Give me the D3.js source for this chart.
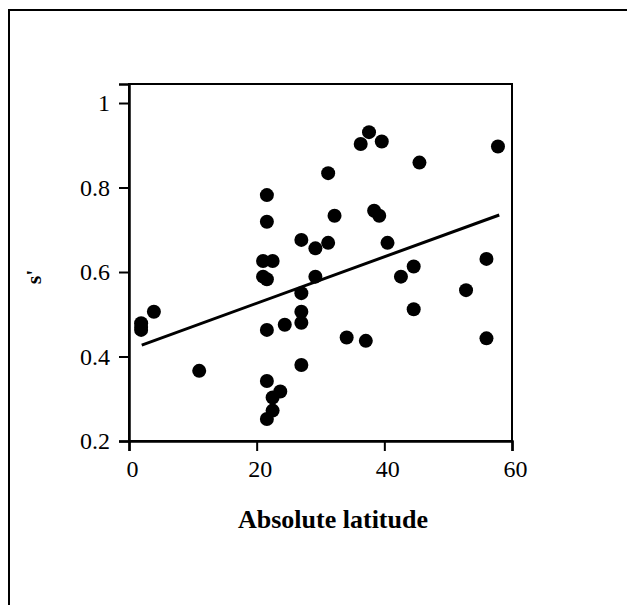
<!DOCTYPE html>
<html>
<head>
<meta charset="utf-8">
<script src="https://cdn.jsdelivr.net/npm/d3@7/dist/d3.min.js"></script>
<style>
  html, body { margin: 0; padding: 0; background: #fff; }
  svg { display: block; }
  text { font-family: "Liberation Serif", "Times New Roman", serif; fill: #000; }
</style>
</head>
<body>
<script>
// Absolute latitude vs s' for each sampled site
const latitude = [1.9, 1.9, 1.9, 3.9, 11.0,
  21.6, 21.6, 21.0, 22.5, 21.0, 21.6, 21.6, 21.6, 23.7, 22.5, 22.5, 21.6, 24.4,
  27.0, 27.0, 27.0, 27.0, 27.0, 29.2, 29.2, 31.2, 31.2, 32.2, 34.1, 36.3, 37.1,
  37.6, 38.4, 39.2, 39.6, 40.5, 42.6, 44.6, 44.6, 45.5, 52.8, 56.0, 56.0, 57.8];
const sPrime = [0.479, 0.470, 0.463, 0.506, 0.366,
  0.782, 0.719, 0.626, 0.626, 0.589, 0.583, 0.463, 0.342, 0.317, 0.303, 0.272, 0.252, 0.475,
  0.676, 0.550, 0.506, 0.480, 0.380, 0.656, 0.589, 0.834, 0.669, 0.733, 0.445, 0.903, 0.437,
  0.931, 0.745, 0.733, 0.909, 0.669, 0.589, 0.613, 0.512, 0.859, 0.557, 0.631, 0.443, 0.897];

// Fitted trend line endpoints
const fitX = [2, 58];
const fitY = [0.427, 0.735];

const xTicks = [0, 20, 40, 60];
const yTicks = [0.2, 0.4, 0.6, 0.8, 1];
const yTickLabels = ["0.2", "0.4", "0.6", "0.8", "1"];

const W = 627, H = 605;
const svg = d3.select("body").append("svg").attr("width", W).attr("height", H);

// outer frame (top and left edges)
svg.append("line").attr("x1", 8).attr("x2", W).attr("y1", 10).attr("y2", 10)
  .attr("stroke", "#000").attr("stroke-width", 2);
svg.append("line").attr("x1", 9).attr("x2", 9).attr("y1", 9).attr("y2", H)
  .attr("stroke", "#000").attr("stroke-width", 2);

const plotLeft = 129, plotRight = 512, plotTop = 84, plotBottom = 441;
const x = d3.scaleLinear().domain([0, 60]).range([plotLeft, plotRight]);
const y = d3.scaleLinear().domain([0.2, 1.045]).range([plotBottom, plotTop]);

// plot box
svg.append("rect").attr("x", plotLeft).attr("y", plotTop)
  .attr("width", plotRight - plotLeft).attr("height", plotBottom - plotTop)
  .attr("fill", "none").attr("stroke", "#000").attr("stroke-width", 2);

const xAxis = svg.append("g").attr("transform", `translate(0,${plotBottom})`)
  .call(d3.axisBottom(x).tickValues(xTicks).tickSize(10).tickPadding(9).tickFormat(d3.format("d")));
const yAxis = svg.append("g").attr("transform", `translate(${plotLeft},0)`)
  .call(d3.axisLeft(y).tickValues(yTicks).tickSize(10).tickPadding(9)
    .tickFormat((d, i) => yTickLabels[i]));

[xAxis, yAxis].forEach(g => {
  g.attr("font-size", null).attr("font-family", null);
  g.select(".domain").attr("stroke", "#000").attr("stroke-width", 2.5);
  g.selectAll(".tick line").attr("stroke", "#000").attr("stroke-width", 2);
  g.selectAll(".tick text").style("font-family", '"Liberation Serif", "Times New Roman", serif')
    .style("font-size", "24px").attr("fill", "#000");
});
xAxis.selectAll(".tick text").attr("dx", 3);

// trend line
svg.append("line")
  .attr("x1", x(fitX[0])).attr("y1", y(fitY[0]))
  .attr("x2", x(fitX[1])).attr("y2", y(fitY[1]))
  .attr("stroke", "#000").attr("stroke-width", 3);

// points
svg.append("g").selectAll("circle")
  .data(latitude.map((d, i) => [d, sPrime[i]]))
  .join("circle")
  .attr("cx", d => x(d[0])).attr("cy", d => y(d[1]))
  .attr("r", 7).attr("fill", "#000");

// axis titles
svg.append("text").attr("x", 333).attr("y", 528)
  .attr("text-anchor", "middle").style("font-size", "26px").style("font-weight", "bold")
  .text("Absolute latitude");
svg.append("text").attr("transform", "translate(41,277) rotate(-90)")
  .attr("text-anchor", "middle").style("font-size", "22px").style("font-weight", "bold")
  .text("s'");
</script>
</body>
</html>
